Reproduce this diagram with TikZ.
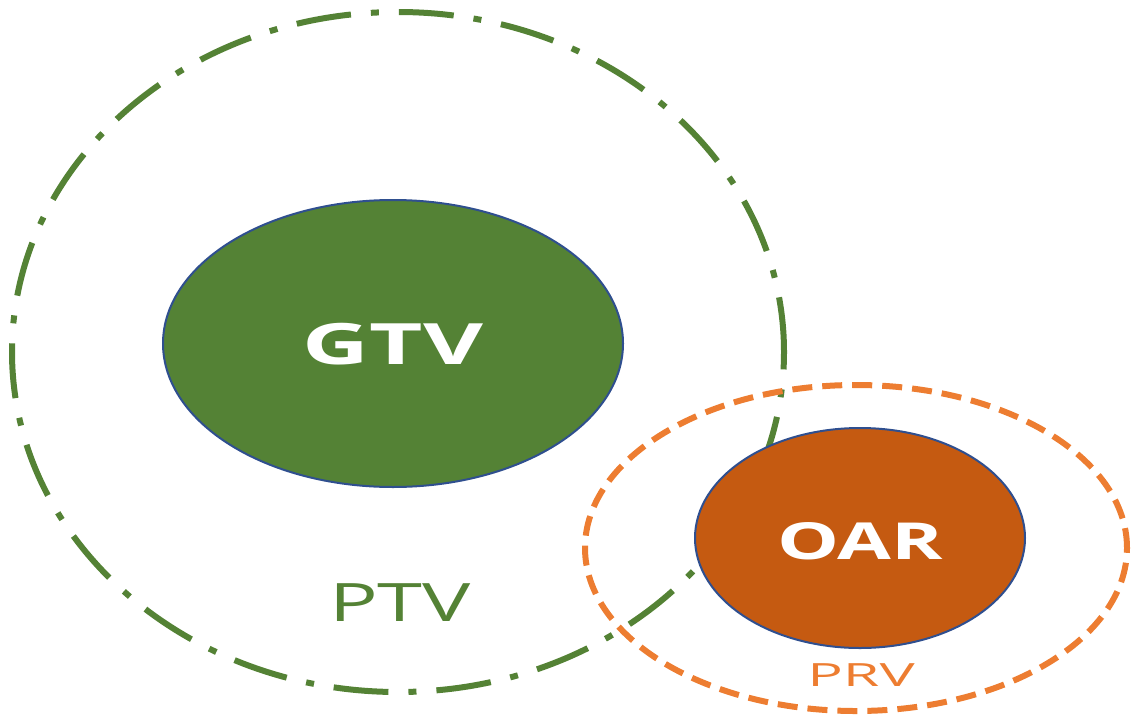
\documentclass[tikz,border=0pt]{standalone}
\usepackage{fontspec}
\usepackage{graphicx}
\setmainfont{Open Sans}
\usetikzlibrary{shapes.geometric}
\definecolor{ptvgreen}{HTML}{548235}
\definecolor{oarfill}{HTML}{C55A11}
\definecolor{prvorange}{HTML}{ED7D31}
\definecolor{edgeblue}{HTML}{2F4F8F}
\tikzset{
  region/.style={ellipse, inner sep=0pt, outer sep=0pt},
  ptvline/.style={draw=ptvgreen, line width=6pt, dash pattern=on 55pt off 20pt on 8pt off 20pt},
  prvline/.style={draw=prvorange, line width=6pt, dash pattern=on 20pt off 10pt},
  solidorgan/.style={draw=edgeblue, line width=2pt},
}
\begin{document}
\begin{tikzpicture}[x=1pt,y=-1pt]
\useasboundingbox (0,0) rectangle (1131,715);
\node[region, ptvline, minimum width=772pt, minimum height=680pt] (ptv) at (398,352) {};
\node[region, solidorgan, fill=ptvgreen, minimum width=460pt, minimum height=287pt] (gtv) at (393,343.5) {};
\node[font=\fontsize{57}{58}\selectfont\bfseries, text=white] (gtvlabel) at (393,344) {\scalebox{1.62}[1]{GTV}};
\node[region, prvline, minimum width=542pt, minimum height=326pt] (prv) at (856,548) {};
\node[region, solidorgan, fill=oarfill, minimum width=330pt, minimum height=220pt] (oar) at (860,538) {};
\node[font=\fontsize{51}{52}\selectfont\bfseries, text=white] (oarlabel) at (860,541) {\scalebox{1.53}[1]{OAR}};
\node[font=\fontsize{53}{54}\selectfont, text=ptvgreen] (ptvlabel) at (400,603) {\scalebox{1.53}[1]{PTV}};
\node[font=\fontsize{32}{33}\selectfont, text=prvorange] (prvlabel) at (861,675) {\scalebox{1.85}[1]{PRV}};
\end{tikzpicture}
\end{document}
